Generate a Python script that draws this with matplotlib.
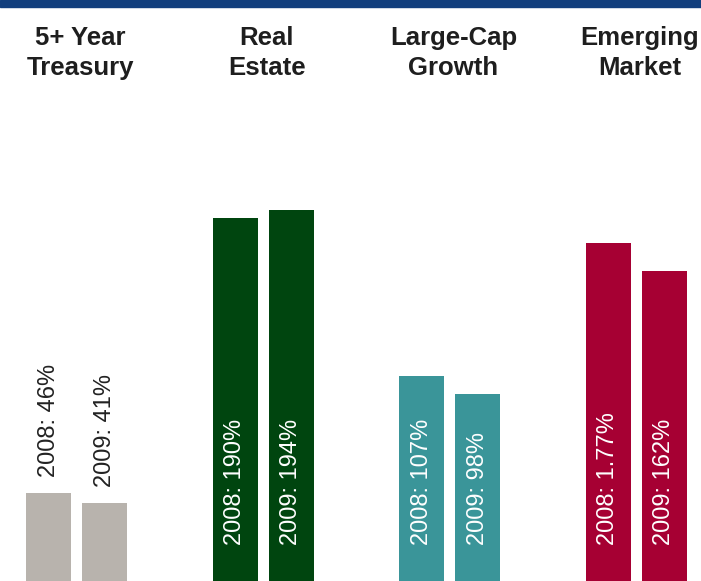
import matplotlib
matplotlib.use("Agg")
import matplotlib.pyplot as plt
from matplotlib.patches import Rectangle

plt.rcParams['font.family'] = ['Liberation Sans', 'DejaVu Sans']

# Asset classes and their values for two years
categories = ["5+ Year\nTreasury", "Real\nEstate", "Large-Cap\nGrowth", "Emerging\nMarket"]
values_2008 = [46, 190, 107, 177]
values_2009 = [41, 194, 98, 162]
labels_2008 = ["2008: 46%", "2008: 190%", "2008: 107%", "2008: 1.77%"]
labels_2009 = ["2009: 41%", "2009: 194%", "2009: 98%", "2009: 162%"]
colors = ["#b8b3ad", "#00450f", "#3a9599", "#a60033"]

fig = plt.figure(figsize=(7.01, 5.81), dpi=100)
ax = fig.add_axes([0, 0, 1, 1])
ax.set_xlim(-0.411, 3.348)
ax.set_ylim(0, 581 / 1.912)
ax.axis("off")

width = 0.241
offset = 0.150
inside_base = 19
for i, cat in enumerate(categories):
    for dx, val, lab in ((-offset, values_2008[i], labels_2008[i]),
                         (offset, values_2009[i], labels_2009[i])):
        ax.bar(i + dx, val, width=width, color=colors[i], linewidth=0)
        if val < 60:
            ax.text(i + dx, val + 8.4, lab, rotation=90, ha="center", va="bottom",
                    fontsize=17, color="#222222")
        else:
            ax.text(i + dx, inside_base, lab, rotation=90, ha="center", va="bottom",
                    fontsize=17, color="white")
    ax.text(i + 0.02, 1 - 53 / 581, cat, transform=ax.get_xaxis_transform(),
            ha="center", va="center", fontsize=18.5, fontweight="bold",
            color="#1e1e1e", linespacing=1.36)

# Navy rule across the top
fig.patches.append(Rectangle((0, 1 - 7 / 581), 1, 7 / 581, transform=fig.transFigure,
                             color="#123f7d", zorder=5))

fig.savefig("out.png", dpi=100)
